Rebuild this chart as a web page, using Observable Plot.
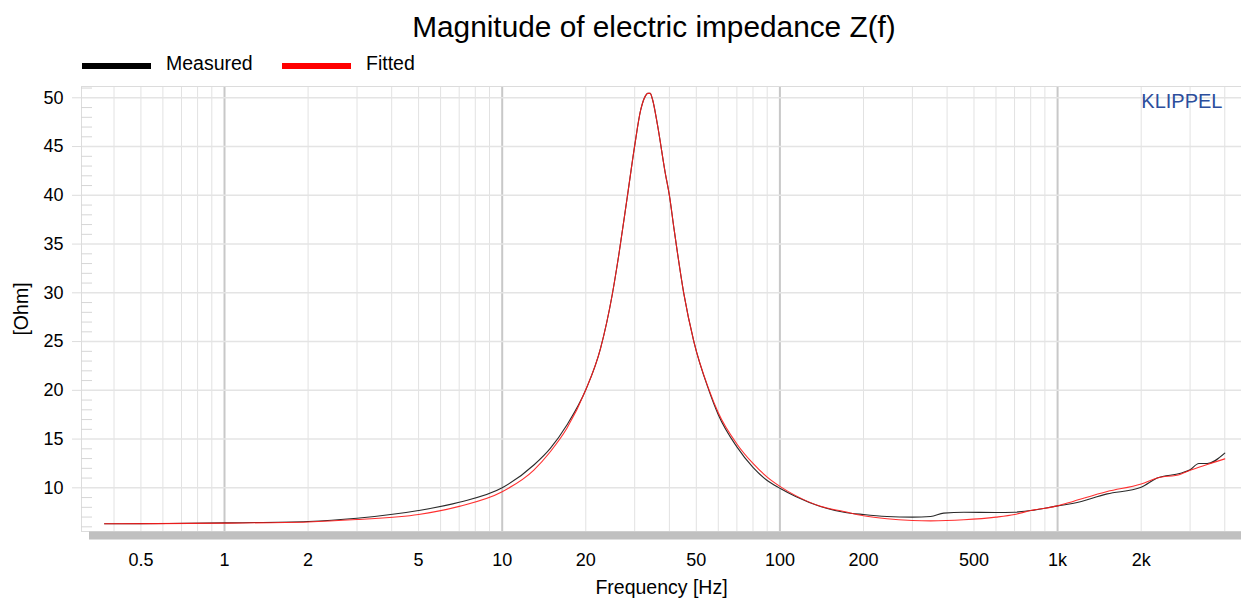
<!DOCTYPE html>
<html><head><meta charset="utf-8">
<script src="https://cdn.jsdelivr.net/npm/d3@7"></script>
<script src="https://cdn.jsdelivr.net/npm/@observablehq/plot@0.6"></script>
<style>
html,body{margin:0;padding:0;background:#fff;width:1241px;height:598px;overflow:hidden;font-family:"Liberation Sans",Arial,sans-serif;}
#title{position:absolute;left:654px;top:12px;transform:translateX(-50%);font-size:29.8px;line-height:30px;white-space:nowrap;color:#000;}
.sw{position:absolute;height:6px;top:62.5px;}
.lt{position:absolute;font-size:19.5px;line-height:19.5px;top:53.5px;color:#000;white-space:nowrap;}
#chart{position:absolute;left:0;top:76px;}
#chart [aria-label="y-axis label"]{font-size:19.5px;}
</style></head><body>
<div id="title">Magnitude of electric impedance Z(f)</div>
<div id="legend"></div>
<div id="chart"></div>
<script>
// ---- data ----
const seriesNames = ["Measured", "Fitted"];
const seriesColors = ["#000000", "#ff0000"];

const measuredFreq = [0.37, 0.5, 1, 2, 3, 5, 7, 10, 13, 14.9, 17.1, 20, 22.6, 24.9, 26.3, 28.2, 30, 31.5, 32.8, 33.4, 34.1, 34.8, 36.2, 38.7, 40, 41.5, 45.1, 49, 55.5, 60, 70, 80, 90, 100, 114, 140, 170, 200, 243, 300, 349, 389, 460, 600, 700, 800, 1000, 1143, 1509, 2000, 2284, 2774, 3000, 3226, 3459, 4000];
const measuredZ    = [6.31, 6.33, 6.4, 6.55, 6.88, 7.67, 8.52, 10.0, 12.34, 14.05, 16.45, 20.05, 24.3, 29.8, 33.9, 39.8, 45.1, 48.7, 50.2, 50.45, 50.45, 49.8, 47.3, 42.2, 40.0, 36.7, 29.9, 25.0, 20.0, 17.5, 14.2, 12.1, 10.75, 9.95, 9.1, 8.08, 7.5, 7.26, 7.06, 6.99, 7.06, 7.4, 7.5, 7.47, 7.5, 7.67, 8.15, 8.42, 9.38, 10.06, 11.0, 11.5, 11.85, 12.5, 12.5, 13.55];

const fittedFreq = [0.37, 1, 2, 3, 5, 7, 10, 13, 14.9, 17.1, 20, 22.6, 24.9, 26.3, 28.2, 30, 31.5, 32.8, 33.4, 34.1, 34.8, 36.2, 38.7, 40, 41.5, 45.1, 49, 55.5, 60, 70, 80, 90, 100, 114, 140, 170, 200, 243, 300, 349, 460, 600, 700, 800, 1000, 1143, 1509, 2000, 2284, 2774, 3000, 3226, 3459, 4000];
const fittedZ    = [6.31, 6.38, 6.5, 6.75, 7.26, 8.1, 9.6, 11.82, 13.7, 16.1, 20.05, 24.3, 29.8, 33.9, 39.8, 45.1, 48.7, 50.2, 50.45, 50.45, 49.8, 47.3, 42.2, 40.0, 36.7, 29.9, 25.0, 20.1, 17.7, 14.5, 12.5, 11.1, 10.15, 9.2, 8.1, 7.57, 7.13, 6.82, 6.65, 6.61, 6.72, 6.99, 7.26, 7.67, 8.15, 8.63, 9.62, 10.4, 11.0, 11.4, 11.8, 12.1, 12.4, 12.97];

const xTicks = [0.5, 1, 2, 5, 10, 20, 50, 100, 200, 500, 1000, 2000];
const xTickLabels = ["0.5", "1", "2", "5", "10", "20", "50", "100", "200", "500", "1k", "2k"];
const xLabel = "Frequency [Hz]";
const yLabel = "[Ohm]";
const yTicks = [10, 15, 20, 25, 30, 35, 40, 45, 50];
const yMinor = [6, 7, 8, 9, 11, 12, 13, 14, 16, 17, 18, 19, 21, 22, 23, 24, 26, 27, 28, 29, 31, 32, 33, 34, 36, 37, 38, 39, 41, 42, 43, 44, 46, 47, 48, 49, 51];
const gridDecade = [1, 10, 100, 1000];
const gridMinor = [0.4, 0.5, 0.6, 0.7, 0.8, 0.9, 2, 3, 4, 5, 6, 7, 8, 9, 20, 30, 40, 50, 60, 70, 80, 90, 200, 300, 400, 500, 600, 700, 800, 900, 2000, 3000, 4000];
const xDomain = [0.3055, 4595];
const yDomain = [5.52, 51.16];

// ---- legend ----
const legendLeft = [82, 282];
const legend = document.getElementById("legend");
seriesNames.forEach((n, i) => {
  const sw = document.createElement("div");
  sw.className = "sw";
  sw.style.left = legendLeft[i] + "px";
  sw.style.width = "69px";
  sw.style.background = seriesColors[i];
  legend.appendChild(sw);
  const t = document.createElement("div");
  t.className = "lt";
  t.style.left = (legendLeft[i] + 84) + "px";
  t.textContent = n;
  legend.appendChild(t);
});

const measured = measuredFreq.map((f, i) => ({f, z: measuredZ[i]}));
const fitted = fittedFreq.map((f, i) => ({f, z: fittedZ[i]}));

const chart = Plot.plot({
  width: 1241,
  height: 522,
  marginTop: 10,
  marginBottom: 67,
  marginLeft: 81,
  marginRight: 0,
  style: {fontFamily: "'Liberation Sans', Arial, sans-serif", fontSize: "18px", background: "white", color: "black"},
  x: {type: "log", domain: xDomain, axis: null},
  y: {domain: yDomain},
  marks: [
    Plot.ruleX(gridMinor, {stroke: "#e2e2e2", strokeWidth: 1}),
    Plot.ruleX(gridDecade, {stroke: "#c8c8c8", strokeWidth: 2}),
    Plot.gridY(yTicks, {stroke: "#e4e4e4", strokeOpacity: 1, strokeWidth: 1.5}),
    Plot.frame({stroke: "#dcdcdc"}),
    Plot.axisY(yMinor, {tickSize: -11, tickFormat: () => "", stroke: "#d6d6d6", label: null}),
    Plot.axisY(yTicks, {tickSize: 9, tickPadding: 9, stroke: "#dcdcdc", label: yLabel, labelAnchor: "center", labelOffset: 67, labelArrow: "none"}),
    Plot.text(xTicks, {x: d => d, text: (d, i) => xTickLabels[i], frameAnchor: "bottom", lineAnchor: "middle", dy: 29, fontSize: 18, fill: "black"}),
    Plot.text([xLabel], {text: d => d, frameAnchor: "bottom", lineAnchor: "middle", dy: 56, fontSize: 19.5, fill: "black"}),
    Plot.ruleY([yDomain[0]], {stroke: "#c0c0c0", strokeWidth: 8, dy: 4, insetLeft: 8}),
    Plot.line(measured, {x: "f", y: "z", stroke: "#2a2a2a", strokeWidth: 1.1, curve: "monotone-x"}),
    Plot.line(fitted, {x: "f", y: "z", stroke: "#ff1a1a", strokeWidth: 1.1, strokeOpacity: 0.9, curve: "monotone-x"}),
    Plot.text(["KLIPPEL"], {text: d => d, frameAnchor: "top-right", textAnchor: "end", lineAnchor: "middle", dx: -19, dy: 15, fill: "#2c4e9c", fontSize: 20})
  ]
});
document.getElementById("chart").appendChild(chart);
</script>
</body></html>
